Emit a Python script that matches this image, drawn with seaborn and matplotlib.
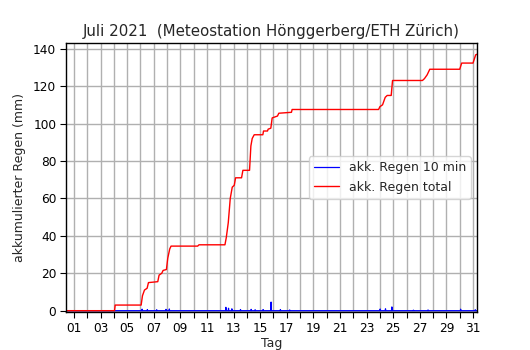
import matplotlib
matplotlib.use("Agg")
import matplotlib.pyplot as plt
import seaborn as sns
import pandas as pd

title = "Juli 2021  (Meteostation Hönggerberg/ETH Zürich)"
xlabel = "Tag"
ylabel = "akkumulierter Regen (mm)"
label_10min = "akk. Regen 10 min"
label_total = "akk. Regen total"

# cumulative total rain (day of month, mm)
total_days = [0.4, 4.05, 4.1, 6.05, 6.15, 6.3, 6.5, 6.6, 7.3, 7.4, 7.6, 7.7, 7.95,
              8.05, 8.2, 8.3, 10.3, 10.4, 12.35, 12.45, 12.6, 12.75, 12.9, 13.05,
              13.15, 13.6, 13.7, 14.2, 14.3, 14.4, 14.55, 15.2, 15.25, 15.55, 15.6,
              15.8, 15.9, 16.3, 16.4, 17.35, 17.4, 23.9, 24.0, 24.2, 24.4, 24.55,
              24.85, 24.95, 27.2, 27.35, 27.55, 27.75, 30.0, 30.15, 31.0, 31.2, 31.3]
total_vals = [0, 0, 3, 3, 8, 11, 12, 15, 15.5, 19, 20, 21.5, 22,
              28, 33, 34.5, 34.5, 35.2, 35.2, 39, 47, 60, 66, 67,
              71, 71, 75, 75, 88, 92, 94, 94, 96, 96, 97,
              97.5, 103, 104, 105.5, 106, 107.5, 107.5, 109, 110, 114, 115,
              115, 123, 123, 124, 126, 129, 129, 132.3, 132.3, 136.7, 137]

# 10-minute rain amounts (day of month, mm)
min10_days = [0.4, 6.1, 6.12, 6.14, 6.5, 6.52, 6.54, 7.2, 7.22, 7.24, 7.9, 7.92, 7.94,
              8.15, 8.17, 8.19, 12.4, 12.42, 12.44, 12.6, 12.62, 12.64, 12.85, 12.87,
              12.89, 13.5, 13.52, 13.54, 14.3, 14.32, 14.34, 14.6, 14.62, 14.64,
              15.2, 15.22, 15.24, 15.8, 15.82, 15.84, 16.5, 16.52, 16.54, 17.2,
              17.22, 17.24, 24.0, 24.02, 24.04, 24.4, 24.42, 24.44, 24.88, 24.9,
              24.92, 26.5, 26.52, 26.54, 27.6, 27.62, 27.64, 30.05, 30.07, 30.09,
              31.15, 31.17, 31.19, 31.3]
min10_vals = [0, 0, 0.8, 0, 0, 0.6, 0, 0, 0.5, 0, 0, 0.7, 0,
              0, 0.9, 0, 0, 1.8, 0, 0, 1.3, 0, 0, 1.0,
              0, 0, 0.6, 0, 0, 0.7, 0, 0, 0.5, 0,
              0, 0.6, 0, 0, 4.6, 0, 0, 0.6, 0, 0,
              0.4, 0, 0, 0.9, 0, 0, 1.0, 0, 0, 2.0,
              0, 0, 0.3, 0, 0, 0.4, 0, 0, 0.8, 0,
              0, 0.5, 0, 0]

day_ticks = list(range(1, 32))
day_labels = [f"{d:02d}" if d % 2 == 1 else "" for d in day_ticks]
y_ticks = [0, 20, 40, 60, 80, 100, 120, 140]

df_total = pd.DataFrame({"day": total_days, "mm": total_vals})
df_10 = pd.DataFrame({"day": min10_days, "mm": min10_vals})

sns.set_style("ticks")
plt.rcParams["font.family"] = ["DejaVu Sans"]

fig, ax = plt.subplots(figsize=(5.3, 3.5), dpi=100)
fig.subplots_adjust(left=0.1245, right=0.9, top=0.877, bottom=0.1086)

sns.lineplot(data=df_10, x="day", y="mm", ax=ax, color="blue", lw=0.9,
             estimator=None, label=label_10min)
sns.lineplot(data=df_total, x="day", y="mm", ax=ax, color="red", lw=1.0,
             estimator=None, label=label_total)

ax.set_xlim(0.4, 31.3)
ax.set_ylim(-0.7, 143)
ax.set_xticks(day_ticks)
ax.set_xticklabels(day_labels)
ax.set_yticks(y_ticks)
ax.grid(True, color="#b0b0b0", lw=1)
ax.set_axisbelow(True)
for s in ax.spines.values():
    s.set_color("black")
    s.set_linewidth(1)
ax.tick_params(colors="black", labelsize=8.7, length=4.5, width=0.8, pad=2.5)
ax.set_title(title, fontsize=10.8, pad=5)
ax.set_xlabel(xlabel, fontsize=9, labelpad=2)
ax.set_ylabel(ylabel, fontsize=9, labelpad=5)
leg = ax.legend(loc="center right", fontsize=9, frameon=True)
leg.get_frame().set_edgecolor("#cccccc")

fig.savefig("out.png", dpi=100)
